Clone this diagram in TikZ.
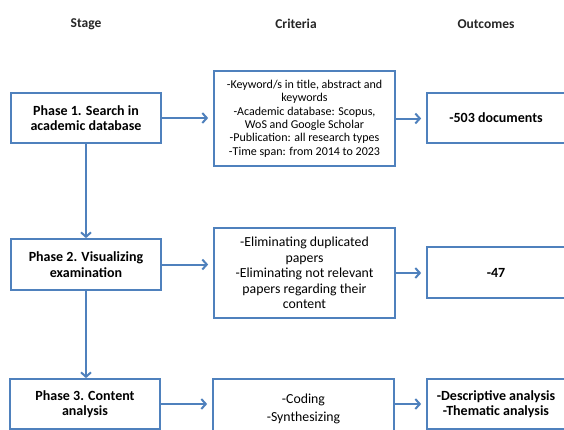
\documentclass[tikz,border=0pt]{standalone}
\usepackage{fontspec}
\setmainfont{Carlito}
\usetikzlibrary{arrows.meta}
\definecolor{bl}{RGB}{79,129,189}
\begin{document}
\begin{tikzpicture}[x=1pt,y=-1pt,
 box/.style={draw=bl, line width=1.7pt, fill=white, inner sep=0pt, align=center, text=black},
 hdr/.style={font=\fontsize{13.5}{15}\selectfont\bfseries, text=black!85},
 stg/.style={box, font=\fontsize{14}{15.3}\selectfont\bfseries, minimum width=150pt, minimum height=50pt},
 crit/.style={box, minimum width=181pt},
 outc/.style={box, font=\fontsize{14}{15.3}\selectfont\bfseries, minimum width=138pt, minimum height=50pt},
 arr/.style={color=bl, line width=2pt, -{Straight Barb[length=4.5pt,width=10pt,line width=2pt]}},
]
\useasboundingbox (0,0) rectangle (564,429);
\clip (0,0) rectangle (564,429);
\fill[white] (0,0) rectangle (564,429);

% headers
\node[hdr] (h1) at (86,24) {Stage};
\node[hdr] (h2) at (296,24) {Criteria};
\node[hdr] (h3) at (486,24) {Outcomes};

% stages
\node[stg] (p1) at (86,118) {Phase 1. Search in\\academic database};
\node[stg, minimum height=51pt] (p2) at (86,264.5) {Phase 2. Visualizing\\examination};
\node[stg] (p3) at (85,404) {Phase 3. Content\\analysis};

% criteria
\node[crit, minimum height=95pt, font=\fontsize{12}{13.4}\selectfont] (c1) at (304.5,118.5)
 {-Keyword/s in title, abstract and\\keywords\\-Academic database: Scopus,\\WoS and Google Scholar\\-Publication: all research types\\-Time span: from 2014 to 2023};
\node[crit, minimum height=90pt, font=\fontsize{13.8}{15.4}\selectfont] (c2) at (304.5,273)
 {-Eliminating duplicated\\papers\\-Eliminating not relevant\\papers regarding their\\content};
\node[crit, minimum height=60pt, font=\fontsize{13.8}{17.3}\selectfont] (c3) at (303.5,409)
 {-Coding\\-Synthesizing};

% outcomes
\node[outc] (o1) at (496,118) {-503 documents};
\node[outc, minimum height=51pt] (o2) at (496,272.5) {-47};
\node[outc] (o3) at (496,404) {-Descriptive analysis\\-Thematic analysis};

% arrows
\draw[arr] (p1.south) -- (p2.north);
\draw[arr] (p2.south) -- (p2.south |- p3.north);
\draw[arr, shorten >=5pt] (p1.east) -- (p1.east -| c1.west);
\draw[arr, shorten >=5pt] (c1.east) -- (c1.east -| o1.west);
\draw[arr, shorten >=5pt] (p2.east) -- (p2.east -| c2.west);
\draw[arr, shorten >=5pt] (c2.east) -- (c2.east -| o2.west);
\draw[arr, shorten >=5pt] (p3.east) -- (p3.east -| c3.west);
\draw[arr, shorten >=5pt] (o3.west -| c3.east) -- (o3.west);
\end{tikzpicture}
\end{document}
